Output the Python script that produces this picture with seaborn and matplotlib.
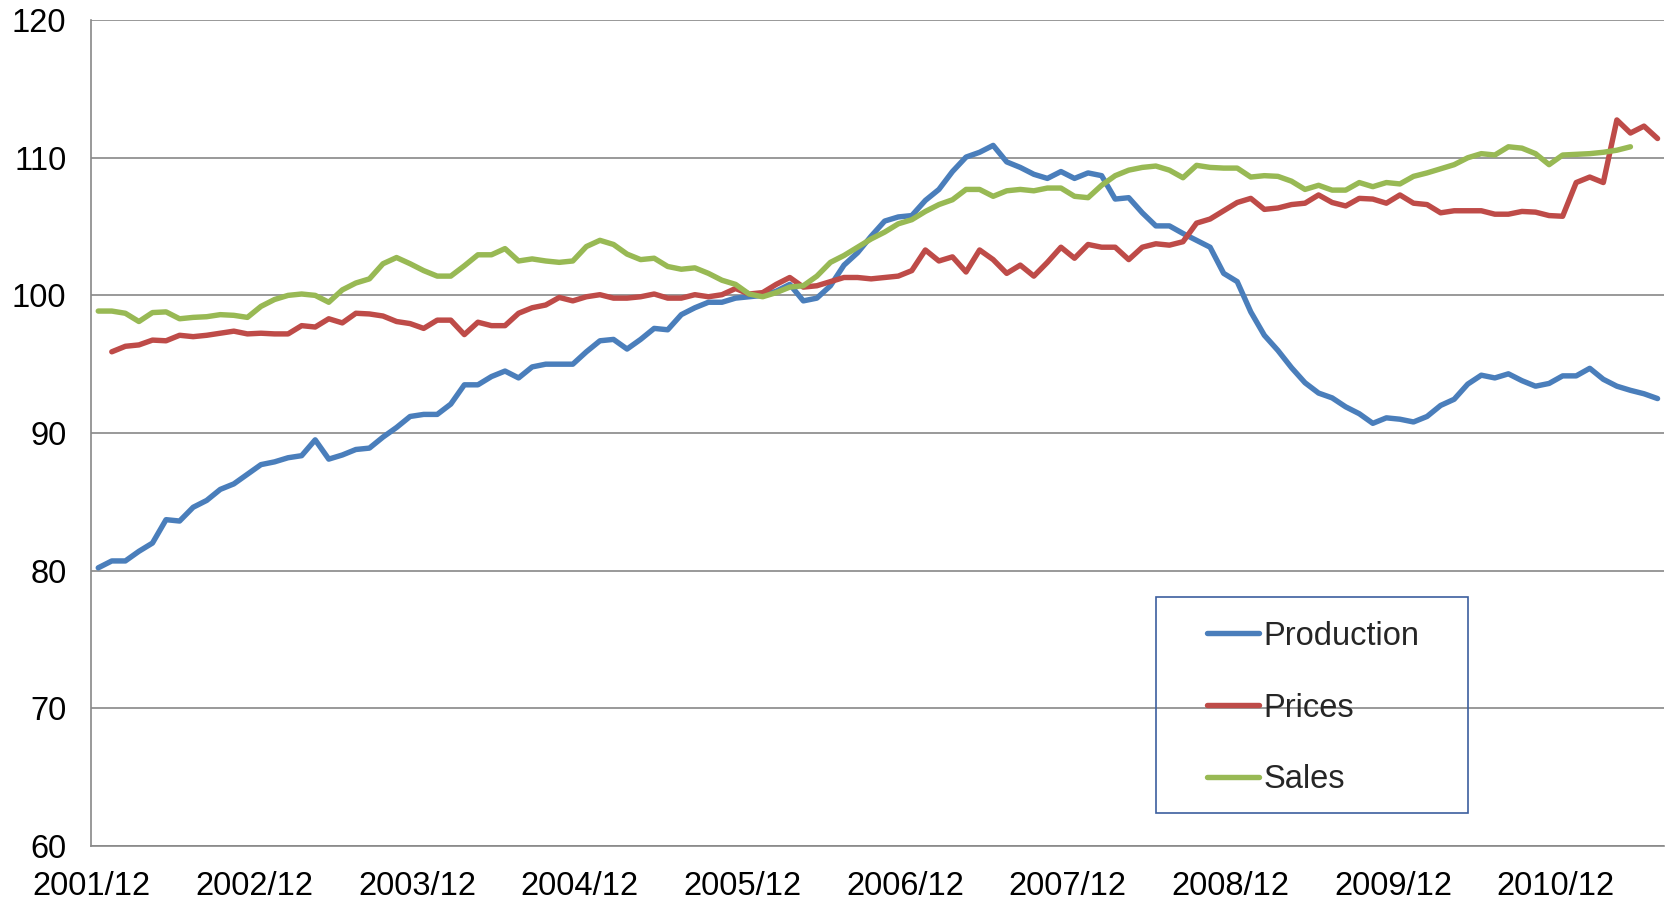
import numpy as np
import pandas as pd
import seaborn as sns
import matplotlib.pyplot as plt
from matplotlib.patches import Rectangle

# monthly index values, 2001/12 .. 2011/07
production = [80.2, 80.7, 80.7, 81.4, 82.0, 83.7, 83.6, 84.6, 85.1, 85.9, 86.3, 87.0,
              87.7, 87.9, 88.2, 88.35, 89.5, 88.1, 88.4, 88.8, 88.9, 89.7, 90.4, 91.2,
              91.35, 91.35, 92.1, 93.5, 93.5, 94.1, 94.5, 94.0, 94.8, 95.0, 95.0, 95.0,
              95.9, 96.7, 96.8, 96.1, 96.8, 97.6, 97.5, 98.6, 99.1, 99.5, 99.5, 99.8,
              99.9, 100.0, 100.3, 100.8, 99.6, 99.8, 100.7, 102.2, 103.1, 104.3, 105.4, 105.7,
              105.8, 106.9, 107.7, 109.0, 110.05, 110.4, 110.9, 109.7, 109.3, 108.8, 108.5, 109.0,
              108.5, 108.9, 108.7, 107.0, 107.1, 106.0, 105.05, 105.05, 104.5, 104.0, 103.5, 101.6,
              101.0, 98.8, 97.1, 96.0, 94.75, 93.65, 92.9, 92.55, 91.9, 91.4, 90.7, 91.1,
              91.0, 90.8, 91.2, 92.0, 92.45, 93.55, 94.2, 94.0, 94.3, 93.8, 93.4, 93.6,
              94.15, 94.15, 94.7, 93.9, 93.4, 93.1, 92.85, 92.5]

prices = [np.nan, 95.9, 96.3, 96.4, 96.75, 96.7, 97.1, 97.0, 97.1, 97.25, 97.4, 97.2,
          97.25, 97.2, 97.2, 97.8, 97.7, 98.3, 98.0, 98.7, 98.65, 98.5, 98.1, 97.95,
          97.6, 98.2, 98.2, 97.15, 98.05, 97.8, 97.8, 98.7, 99.1, 99.3, 99.85, 99.6,
          99.9, 100.05, 99.8, 99.8, 99.9, 100.1, 99.8, 99.8, 100.05, 99.9, 100.05, 100.5,
          100.1, 100.2, 100.8, 101.3, 100.6, 100.7, 101.0, 101.3, 101.3, 101.2, 101.3, 101.4,
          101.8, 103.3, 102.5, 102.8, 101.7, 103.3, 102.6, 101.6, 102.2, 101.4, 102.4, 103.5,
          102.7, 103.7, 103.5, 103.5, 102.6, 103.5, 103.75, 103.65, 103.9, 105.25, 105.55, 106.15,
          106.75, 107.05, 106.25, 106.35, 106.6, 106.7, 107.3, 106.75, 106.5, 107.05, 107.0, 106.7,
          107.3, 106.7, 106.6, 106.0, 106.15, 106.15, 106.15, 105.9, 105.9, 106.1, 106.05, 105.8,
          105.75, 108.2, 108.6, 108.2, 112.75, 111.8, 112.3, 111.4]

sales = [98.86, 98.86, 98.7, 98.1, 98.75, 98.8, 98.3, 98.4, 98.45, 98.6, 98.55, 98.4,
         99.2, 99.7, 100.0, 100.1, 100.0, 99.5, 100.4, 100.9, 101.2, 102.3, 102.75, 102.3,
         101.8, 101.4, 101.4, 102.15, 102.95, 102.95, 103.4, 102.5, 102.65, 102.5, 102.4, 102.5,
         103.55, 104.0, 103.7, 103.0, 102.6, 102.7, 102.1, 101.9, 102.0, 101.6, 101.1, 100.8,
         100.1, 99.9, 100.2, 100.6, 100.7, 101.4, 102.4, 102.9, 103.5, 104.1, 104.6, 105.2,
         105.5, 106.1, 106.6, 106.95, 107.7, 107.7, 107.2, 107.6, 107.7, 107.6, 107.8, 107.8,
         107.2, 107.1, 108.0, 108.7, 109.1, 109.3, 109.4, 109.1, 108.55, 109.45, 109.3, 109.25,
         109.25, 108.6, 108.7, 108.65, 108.3, 107.7, 108.0, 107.65, 107.65, 108.2, 107.9, 108.2,
         108.1, 108.65, 108.9, 109.2, 109.5, 110.0, 110.3, 110.2, 110.8, 110.7, 110.3, 109.5,
         110.2, 110.25, 110.3, 110.4, 110.55, 110.8, np.nan, np.nan]

tick_labels = ["2001/12", "2002/12", "2003/12", "2004/12", "2005/12",
               "2006/12", "2007/12", "2008/12", "2009/12", "2010/12"]
series_names = ["Production", "Prices", "Sales"]
colors = ["#4A7EBB", "#BE4B48", "#98B954"]

n = len(production)
df = pd.DataFrame({"month": np.arange(n), "Production": production,
                   "Prices": prices, "Sales": sales})
df_long = df.melt(id_vars="month", var_name="series", value_name="value").dropna()

sns.set_theme(style="white")
plt.rcParams["font.family"] = ["Liberation Sans", "DejaVu Sans"]

fig = plt.figure(figsize=(16.66, 9.01), dpi=100)
ax = fig.add_axes([0.0549, 0.0613, 0.9441, 0.9163])

sns.lineplot(data=df_long, x="month", y="value", hue="series", hue_order=series_names,
             palette=colors, estimator=None, linewidth=3.9, ax=ax, legend=True)

grid_c = "#888888"
ax.set_ylim(60, 120)
ax.set_yticks(range(60, 121, 10))
ax.set_xlim(-0.5, n - 0.5)
ax.set_xticks([-0.5 + 12 * k for k in range(len(tick_labels))])
ax.set_xticklabels(tick_labels)
ax.yaxis.grid(True, color=grid_c, linewidth=1.2)
ax.set_axisbelow(True)
ax.set_xlabel("")
ax.set_ylabel("")
for s in ["top", "right"]:
    ax.spines[s].set_visible(False)
for s in ["left", "bottom"]:
    ax.spines[s].set_color(grid_c)
    ax.spines[s].set_linewidth(1.2)
ax.tick_params(axis="both", which="major", labelsize=23.5, colors=grid_c,
               labelcolor="black", length=8, width=1.2, direction="out")
ax.tick_params(axis="x", pad=10)
ax.tick_params(axis="y", pad=10)

# legend in a plain box
handles, labels = ax.get_legend_handles_labels()
ax.legend(handles, labels, loc="upper left", bbox_to_anchor=(0.7067, 0.3435),
          bbox_transform=fig.transFigure, frameon=False, fontsize=23.5,
          handlelength=1.6, handletextpad=0.15, labelspacing=1.25, borderpad=0.4)
fig.patches.append(Rectangle((0.6938, 0.0977), 0.1873, 0.2397, transform=fig.transFigure,
                             fill=False, edgecolor="#3C5F9E", linewidth=1.2))

fig.savefig("out.png", dpi=100, facecolor="white")
